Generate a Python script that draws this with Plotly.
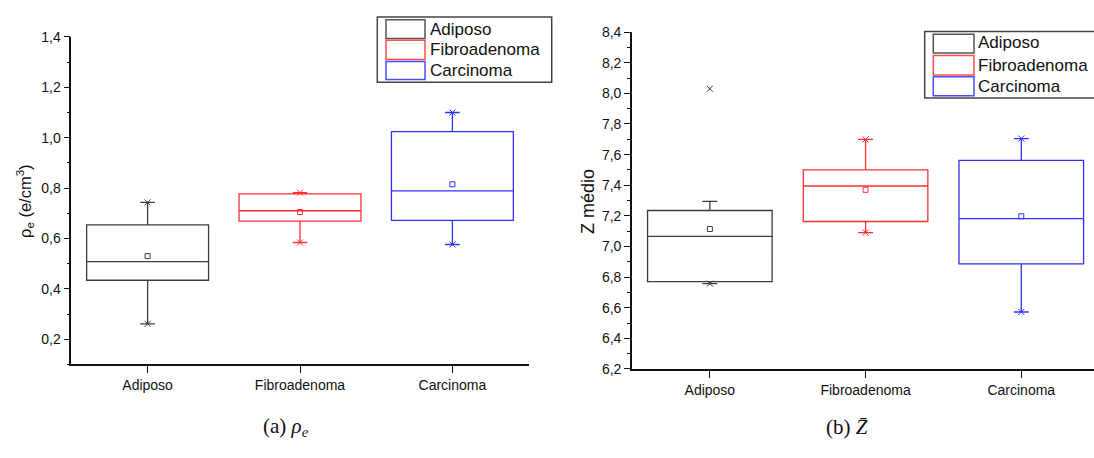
import plotly.graph_objects as go

# ---- data -------------------------------------------------------------
categories = ["Adiposo", "Fibroadenoma", "Carcinoma"]

# electron density rho_e (e/cm^3): box statistics per tissue
rho_q1 = [0.434, 0.669, 0.672]
rho_median = [0.508, 0.710, 0.789]
rho_q3 = [0.654, 0.777, 1.024]
rho_lowerfence = [0.261, 0.584, 0.576]
rho_upperfence = [0.743, 0.782, 1.100]
rho_mean = [0.530, 0.705, 0.815]
rho_min = [0.261, 0.584, 0.576]
rho_max = [0.743, 0.782, 1.100]

# mean atomic number Z: box statistics per tissue
z_q1 = [6.770, 7.163, 6.886]
z_median = [7.066, 7.395, 7.182]
z_q3 = [7.235, 7.500, 7.562]
z_lowerfence = [6.757, 7.091, 6.572]
z_upperfence = [7.294, 7.699, 7.705]
z_mean = [7.114, 7.370, 7.197]
z_min = [6.757, 7.091, 6.572]
z_max = [8.030, 7.699, 7.705]

rho_ticks = [0.2, 0.4, 0.6, 0.8, 1.0, 1.2, 1.4]
z_ticks = [6.2, 6.4, 6.6, 6.8, 7.0, 7.2, 7.4, 7.6, 7.8, 8.0, 8.2, 8.4]

# ---- styling ----------------------------------------------------------
W, H = 1094, 458
line_colors = ["#3c3c3c", "#ff3030", "#3030ff"]
swatch_colors = ["#555555", "#ff4d4d", "#4d4dff"]
SANS = "Liberation Sans, Arial, sans-serif"
SERIF = "Liberation Serif, DejaVu Serif, serif"


def px(x):
    return x / W


def py(y):
    return 1 - y / H


fig = go.Figure()


def add_panel(xa, ya, q1, med, q3, lo, hi, mean, vmin, vmax):
    for i, cat in enumerate(categories):
        c = line_colors[i]
        fig.add_trace(go.Box(
            x=[cat], q1=[q1[i]], median=[med[i]], q3=[q3[i]],
            lowerfence=[lo[i]], upperfence=[hi[i]],
            width=0.8, whiskerwidth=0.12,
            line=dict(color=c, width=1.3),
            fillcolor="rgba(0,0,0,0)",
            boxpoints=False, showlegend=False, hoverinfo="skip",
            xaxis=xa, yaxis=ya,
        ))
        # mean marker
        fig.add_trace(go.Scatter(
            x=[cat], y=[mean[i]], mode="markers",
            marker=dict(symbol="square-open", size=5, color=c,
                        line=dict(width=1, color=c)),
            showlegend=False, hoverinfo="skip", xaxis=xa, yaxis=ya,
        ))
        # min / max markers
        fig.add_trace(go.Scatter(
            x=[cat, cat], y=[vmin[i], vmax[i]], mode="markers",
            marker=dict(symbol="x-thin", size=6, color=c,
                        line=dict(width=1, color=c)),
            showlegend=False, hoverinfo="skip", xaxis=xa, yaxis=ya,
        ))


add_panel("x", "y", rho_q1, rho_median, rho_q3, rho_lowerfence,
          rho_upperfence, rho_mean, rho_min, rho_max)
add_panel("x2", "y2", z_q1, z_median, z_q3, z_lowerfence,
          z_upperfence, z_mean, z_min, z_max)

axis_common = dict(
    showline=True, linecolor="#111111", linewidth=1.6,
    showgrid=False, zeroline=False, ticks="outside",
    tickcolor="#111111", tickwidth=1.3,
    tickfont=dict(family=SANS, size=14, color="#111111"),
)

fig.update_layout(
    width=W, height=H,
    margin=dict(l=0, r=0, t=0, b=0),
    paper_bgcolor="white", plot_bgcolor="white",
    separators=",.",
    showlegend=False,
    xaxis=dict(**axis_common, domain=[px(71.4), px(528.6)],
               type="category", categoryarray=categories,
               range=[-0.5, 2.5], anchor="y", ticklen=7),
    yaxis=dict(**axis_common, domain=[py(369.3), py(30)],
               range=[0.1, 1.4], tickvals=rho_ticks, tickformat=".1f",
               anchor="x", ticklen=6,
               minor=dict(ticks="outside", dtick=0.1, tick0=0.1,
                          ticklen=3, tickcolor="#111111", tickwidth=1.2)),
    xaxis2=dict(**axis_common, domain=[px(632), 1.0],
                type="category", categoryarray=categories,
                range=[-0.5, 2.467], anchor="y2", ticklen=7),
    yaxis2=dict(**axis_common, domain=[py(374), py(25)],
                range=[6.2, 8.4], tickvals=z_ticks, tickformat=".1f",
                anchor="x2", ticklen=6,
                minor=dict(ticks="outside", dtick=0.1, tick0=6.2,
                           ticklen=3, tickcolor="#111111", tickwidth=1.2)),
)

# ---- legends (framed boxes with outlined swatches) -------------------
shapes = []
annotations = []


def add_legend(frame, sw_x, sw_rows, text_x, text_y):
    x0, y0, x1, y1 = frame
    shapes.append(dict(type="rect", xref="paper", yref="paper",
                       x0=px(x0), x1=px(x1), y0=py(y1), y1=py(y0),
                       line=dict(color="#444444", width=1.5),
                       fillcolor="white", layer="above"))
    for i, cat in enumerate(categories):
        ya, yb = sw_rows[i]
        shapes.append(dict(type="rect", xref="paper", yref="paper",
                           x0=px(sw_x[0]), x1=px(sw_x[1]),
                           y0=py(yb), y1=py(ya),
                           line=dict(color=swatch_colors[i], width=1.5),
                           fillcolor="rgba(0,0,0,0)", layer="above"))
        annotations.append(dict(xref="paper", yref="paper",
                                x=px(text_x), y=py(text_y[i]),
                                xanchor="left", yanchor="middle",
                                text=cat, showarrow=False,
                                font=dict(family=SANS, size=17,
                                          color="#111111")))


add_legend((377.3, 9.3, 551.7, 77.0), (386, 425),
           [(12.3, 31.5), (33.5, 53.3), (55.5, 74.2)],
           428, [22, 43.5, 64.5])
add_legend((924.7, 24.3, 1100, 93.3), (933.3, 974),
           [(27.3, 46.7), (49.3, 69.3), (71.2, 91.0)],
           976, [36, 59.5, 81.5])

# ---- axis titles -----------------------------------------------------
annotations.append(dict(xref="paper", yref="paper", x=px(25), y=py(200),
                        text="ρ<sub>e</sub> (e/cm<sup>3</sup>)",
                        textangle=-90, showarrow=False,
                        xanchor="center", yanchor="middle",
                        font=dict(family=SANS, size=16.5, color="#111111")))
annotations.append(dict(xref="paper", yref="paper", x=px(588), y=py(201),
                        text="Z médio", textangle=-90, showarrow=False,
                        xanchor="center", yanchor="middle",
                        font=dict(family=SANS, size=18, color="#111111")))

# ---- sub-figure captions --------------------------------------------
annotations.append(dict(xref="paper", yref="paper", x=px(286), y=py(434),
                        text="(a) <i>ρ<sub>e</sub></i>", showarrow=False,
                        xanchor="center", yanchor="middle",
                        font=dict(family=SERIF, size=21, color="#111111")))
annotations.append(dict(xref="paper", yref="paper", x=px(847), y=py(434),
                        text="(b) <i>Z\u0304</i>", showarrow=False,
                        xanchor="center", yanchor="middle",
                        font=dict(family=SERIF, size=21, color="#111111")))

fig.update_layout(shapes=shapes, annotations=annotations)

fig.write_html("out.html")
